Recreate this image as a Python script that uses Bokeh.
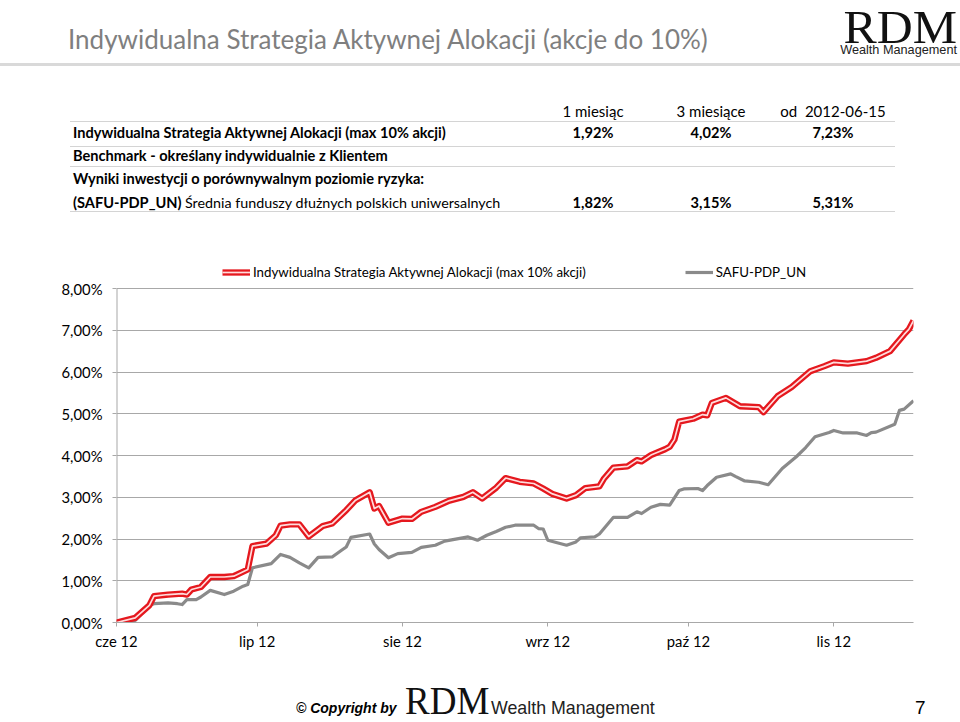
import pandas as pd
from bokeh.plotting import figure
from bokeh.models import Range1d, FixedTicker, Legend, LegendItem, ColumnDataSource, Div
from bokeh.layouts import column
from bokeh.embed import file_html
from bokeh.resources import INLINE

# ---------------- data ----------------
title_text = "Indywidualna Strategia Aktywnej Alokacji (akcje do 10%)"
period_labels = ["1 miesiąc", "3 miesiące", "od&nbsp;&nbsp;2012-06-15"]
strategy_name = "Indywidualna Strategia Aktywnej Alokacji (max 10% akcji)"
benchmark_text = "Benchmark - określany indywidualnie z Klientem"
peer_text = "Wyniki inwestycji o porównywalnym poziomie ryzyka:"
safu_code = "(SAFU-PDP_UN)"
safu_desc = "Średnia funduszy dłużnych polskich uniwersalnych"
safu_name = "SAFU-PDP_UN"
strategy_returns = [1.92, 4.02, 7.23]
safu_returns = [1.82, 3.15, 5.31]

strategy_dates = [
    "2012-06-15", "2012-06-19", "2012-06-22", "2012-06-23", "2012-06-26", "2012-06-29",
    "2012-06-30", "2012-07-01", "2012-07-03", "2012-07-05", "2012-07-08", "2012-07-10",
    "2012-07-13", "2012-07-14", "2012-07-17", "2012-07-19", "2012-07-20", "2012-07-22",
    "2012-07-24", "2012-07-26", "2012-07-29", "2012-07-31", "2012-08-03", "2012-08-05",
    "2012-08-08", "2012-08-09", "2012-08-10", "2012-08-12", "2012-08-15", "2012-08-17",
    "2012-08-19", "2012-08-22", "2012-08-25", "2012-08-28", "2012-08-30", "2012-09-01",
    "2012-09-04", "2012-09-06", "2012-09-09", "2012-09-12", "2012-09-14", "2012-09-16",
    "2012-09-19", "2012-09-21", "2012-09-23", "2012-09-26", "2012-09-27", "2012-09-29",
    "2012-10-02", "2012-10-04", "2012-10-05", "2012-10-07", "2012-10-10", "2012-10-11",
    "2012-10-12", "2012-10-13", "2012-10-16", "2012-10-18", "2012-10-19", "2012-10-20",
    "2012-10-23", "2012-10-26", "2012-10-30", "2012-10-31", "2012-11-03", "2012-11-06",
    "2012-11-10", "2012-11-13", "2012-11-15", "2012-11-18", "2012-11-22", "2012-11-24",
    "2012-11-27", "2012-11-30", "2012-12-01", "2012-12-02",
]
strategy_values = [
    0.00, 0.11, 0.41, 0.63, 0.67, 0.69,
    0.67, 0.79, 0.85, 1.09, 1.09, 1.11,
    1.27, 1.83, 1.89, 2.09, 2.32, 2.35,
    2.35, 2.06, 2.31, 2.37, 2.69, 2.93,
    3.12, 2.73, 2.79, 2.39, 2.49, 2.48,
    2.65, 2.77, 2.92, 3.01, 3.12, 2.97,
    3.23, 3.46, 3.37, 3.33, 3.21, 3.08,
    2.97, 3.05, 3.22, 3.26, 3.45, 3.71,
    3.74, 3.89, 3.86, 4.01, 4.15, 4.21,
    4.38, 4.81, 4.88, 4.98, 4.96, 5.26,
    5.38, 5.18, 5.16, 5.04, 5.42, 5.64,
    6.02, 6.14, 6.23, 6.20, 6.26, 6.34,
    6.50, 6.90, 7.02, 7.23,
]

safu_dates = [
    "2012-06-15", "2012-06-19", "2012-06-22", "2012-06-23", "2012-06-26", "2012-06-28",
    "2012-06-29", "2012-06-30", "2012-07-02", "2012-07-03", "2012-07-05", "2012-07-08",
    "2012-07-10", "2012-07-12", "2012-07-13", "2012-07-14", "2012-07-18", "2012-07-20",
    "2012-07-22", "2012-07-24", "2012-07-26", "2012-07-28", "2012-07-31", "2012-08-02",
    "2012-08-03", "2012-08-04", "2012-08-08", "2012-08-09", "2012-08-10", "2012-08-12",
    "2012-08-14", "2012-08-17", "2012-08-19", "2012-08-22", "2012-08-24", "2012-08-29",
    "2012-08-31", "2012-09-02", "2012-09-04", "2012-09-06", "2012-09-08", "2012-09-12",
    "2012-09-13", "2012-09-14", "2012-09-15", "2012-09-19", "2012-09-21", "2012-09-22",
    "2012-09-25", "2012-09-26", "2012-09-29", "2012-10-02", "2012-10-04", "2012-10-05",
    "2012-10-07", "2012-10-09", "2012-10-11", "2012-10-13", "2012-10-14", "2012-10-17",
    "2012-10-18", "2012-10-19", "2012-10-21", "2012-10-24", "2012-10-25", "2012-10-27",
    "2012-10-30", "2012-11-01", "2012-11-04", "2012-11-07", "2012-11-09", "2012-11-11",
    "2012-11-14", "2012-11-15", "2012-11-17", "2012-11-20", "2012-11-22", "2012-11-23",
    "2012-11-24", "2012-11-28", "2012-11-29", "2012-11-30", "2012-12-02",
]
safu_values = [
    0.00, 0.05, 0.41, 0.45, 0.47, 0.45,
    0.43, 0.55, 0.55, 0.61, 0.77, 0.67,
    0.75, 0.87, 0.91, 1.31, 1.41, 1.63,
    1.56, 1.43, 1.31, 1.56, 1.57, 1.73,
    1.81, 2.04, 2.12, 1.88, 1.75, 1.55,
    1.65, 1.68, 1.80, 1.85, 1.95, 2.05,
    1.97, 2.09, 2.18, 2.28, 2.33, 2.33,
    2.25, 2.24, 1.97, 1.85, 1.93, 2.03,
    2.05, 2.12, 2.52, 2.52, 2.65, 2.61,
    2.76, 2.83, 2.81, 3.16, 3.20, 3.21,
    3.16, 3.28, 3.48, 3.56, 3.50, 3.39,
    3.36, 3.30, 3.69, 3.97, 4.19, 4.45,
    4.55, 4.60, 4.54, 4.54, 4.48, 4.55,
    4.56, 4.75, 5.08, 5.11, 5.31,
]

y_ticks = [0, 1, 2, 3, 4, 5, 6, 7, 8]
y_tick_labels = ["0,00%", "1,00%", "2,00%", "3,00%", "4,00%", "5,00%", "6,00%", "7,00%", "8,00%"]
x_tick_dates = ["2012-06-15", "2012-07-15", "2012-08-15", "2012-09-15", "2012-10-15", "2012-11-15"]
x_tick_labels = ["cze 12", "lip 12", "sie 12", "wrz 12", "paź 12", "lis 12"]
x_axis_start = "2012-06-15"
x_axis_end = "2012-12-02"

FONT = "Lato"
RED = "#e5181e"
GRAY_LINE = "#8a8a8a"
GRID = "#a8a8a8"


def pct(v):
    return f"{v:.2f}".replace(".", ",") + "%"


def txt(x, y, text, size, font=FONT, weight="normal", style="normal", color="#000000",
        align="left", sx=1.0):
    tx = {"left": "0", "center": "-50%", "right": "-100%"}[align]
    origin = {"left": "left", "center": "center", "right": "right"}[align]
    return (f'<div style="position:absolute;left:{x}px;top:{y}px;white-space:nowrap;'
            f'transform-origin:{origin} center;transform:translate({tx},-50%) scaleX({sx});'
            f"font-family:'{font}';font-size:{size};font-weight:{weight};font-style:{style};"
            f'color:{color};line-height:1;">{text}</div>')


def rule(x, y, w, h, color):
    return (f'<div style="position:absolute;left:{x}px;top:{y}px;width:{w}px;height:{h}px;'
            f'background:{color};"></div>')


def box(w, h, inner):
    return (f'<div style="position:relative;width:{w}px;height:{h}px;overflow:hidden;'
            f'margin:0;padding:0;">{inner}</div>')


# ---------------- header (title, logo, table) ----------------
HDR_H = 256
parts = [
    txt(68, 39, title_text, "26px", color="#7f7f7f"),
    rule(0, 63, 960, 3, "#d9d9d9"),
    txt(957, 26.6, "RDM", "47px", font="Liberation Serif", color="#111111", align="right",
        sx=1.06),
    txt(957, 50, "Wealth Management", "12.7px", font="Liberation Sans", color="#222222",
        align="right"),
]
col_x = [593, 711, 833]
for cx, t in zip(col_x, period_labels):
    parts.append(txt(cx, 111, t, "15px", align="center"))
row_y = [133, 156, 179, 203]
for ry, t in zip(row_y, [strategy_name, benchmark_text, peer_text, safu_code]):
    parts.append(txt(73, ry, t, "14.6px", weight="bold"))
parts.append(txt(185, 203, safu_desc, "14.3px"))
for cx, v in zip(col_x, strategy_returns):
    parts.append(txt(cx, 133, pct(v), "14.6px", weight="bold", align="center"))
for cx, v in zip(col_x, safu_returns):
    parts.append(txt(cx, 203, pct(v), "14.6px", weight="bold", align="center"))
for sy in [121, 146, 166, 211]:
    parts.append(rule(70, sy, 825, 1, "#d4d4d4"))
header = Div(text=box(960, HDR_H, "".join(parts)), width=960, height=HDR_H, margin=0)

# ---------------- chart ----------------
CH_H = 404
BT, BB = 4, 38
frame_top = HDR_H + BT                      # page y of frame top
y8_px, y0_px = 288, HDR_H + CH_H - BB       # page y of 8% and 0% lines
y_max = y_ticks[-1] * (y0_px - frame_top) / (y0_px - y8_px)

p = figure(width=960, height=CH_H, x_axis_type="datetime",
           x_range=Range1d(pd.Timestamp(x_axis_start), pd.Timestamp(x_axis_end)),
           y_range=Range1d(0, y_max), output_backend="svg", toolbar_location=None,
           min_border_left=116, min_border_right=47, min_border_top=BT, min_border_bottom=BB,
           outline_line_color=None)

src_s = ColumnDataSource(dict(x=pd.to_datetime(strategy_dates), y=strategy_values))
src_f = ColumnDataSource(dict(x=pd.to_datetime(safu_dates), y=safu_values))

# value axis line (only over the tick range, as in the reference)
p.segment(x0=[pd.Timestamp(x_axis_start)], y0=[y_ticks[0]], x1=[pd.Timestamp(x_axis_start)],
          y1=[y_ticks[-1]], line_color=GRID, line_width=2)

r_gray = p.line("x", "y", source=src_f, line_color=GRAY_LINE, line_width=3.2, line_join="round")
r_red = p.line("x", "y", source=src_s, line_color=RED, line_width=6.3, line_join="round")
r_red_in = p.line("x", "y", source=src_s, line_color="#ffdcdc", line_width=1.7, line_join="round")

legend = Legend(items=[LegendItem(label=strategy_name, renderers=[r_red, r_red_in]),
                       LegendItem(label=safu_name, renderers=[r_gray])],
                orientation="horizontal", location=(222 - 116, y0_px - 282), margin=0, padding=0,
                spacing=99, glyph_width=28, glyph_height=20, label_standoff=3,
                border_line_color=None, background_fill_alpha=0,
                label_text_font=FONT, label_text_font_size="13.3px", label_text_color="#000000")
p.add_layout(legend, "center")

p.xgrid.visible = False
p.ygrid.grid_line_color = GRID
p.ygrid.grid_line_width = 1

p.yaxis.ticker = FixedTicker(ticks=y_ticks)
p.yaxis.major_label_overrides = {t: l for t, l in zip(y_ticks, y_tick_labels)}
x_ticks_ms = [int(pd.Timestamp(d).value // 10**6) for d in x_tick_dates]
p.xaxis.ticker = FixedTicker(ticks=x_ticks_ms)
p.xaxis.major_label_overrides = {t: l for t, l in zip(x_ticks_ms, x_tick_labels)}

for ax in (p.xaxis, p.yaxis):
    ax.axis_line_color = GRID
    ax.major_tick_line_color = GRID
    ax.major_tick_in = 0
    ax.major_tick_out = 4
    ax.minor_tick_line_color = None
    ax.major_label_text_font = FONT
    ax.major_label_text_font_size = "14.8px"
    ax.major_label_text_color = "#000000"
p.yaxis.axis_line_color = None
p.yaxis.major_label_standoff = 10
p.xaxis.major_label_standoff = 5

# ---------------- footer ----------------
FT_TOP = HDR_H + CH_H
FT_H = 722 - FT_TOP
fparts = [
    txt(296, 708 - FT_TOP, "&copy; Copyright by", "14px", font="Liberation Sans", weight="bold",
        style="italic"),
    txt(405, 699.8 - FT_TOP, "RDM", "39px", font="Liberation Serif", color="#111111", sx=0.95),
    txt(491, 709 - FT_TOP, "Wealth Management", "17.8px", font="Liberation Sans",
        color="#222222"),
    txt(915, 707 - FT_TOP, "7", "19px", font="Liberation Sans"),
]
footer = Div(text=box(960, FT_H, "".join(fparts)), width=960, height=FT_H, margin=0)

layout = column(header, p, footer, spacing=0)
open("out.html", "w").write(file_html(layout, INLINE))
